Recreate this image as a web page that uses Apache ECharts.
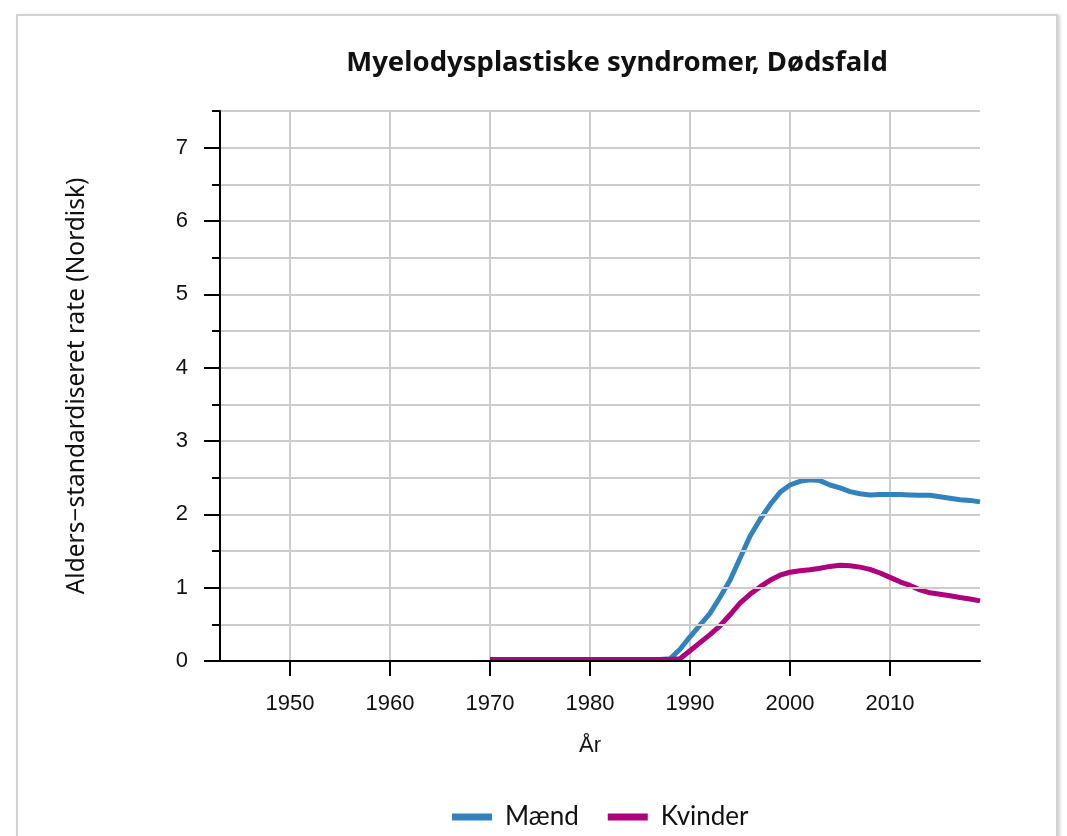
<!DOCTYPE html>
<html>
<head>
<meta charset="utf-8">
<script src="https://cdn.jsdelivr.net/npm/echarts@6/dist/echarts.min.js"></script>
<style>
  html, body { margin: 0; padding: 0; background: #ffffff; }
  #card { position: absolute; left: 16px; top: 14px; width: 1038px; height: 900px;
          border: 2px solid #d2d2d2; box-shadow: 2px 1px 3px rgba(0,0,0,0.18); background: #fff; }
  #chart { position: absolute; left: 0; top: 0; width: 1067px; height: 836px; }
</style>
</head>
<body>
<div id="card"></div>
<div id="chart"></div>
<script>
const titleText = 'Myelodysplastiske syndromer, Dødsfald';
const yAxisName = 'Alders\u2212standardiseret rate (Nordisk)';
const xAxisName = 'År';
const seriesNames = ['Mænd', 'Kvinder'];
const years = [1970,1971,1972,1973,1974,1975,1976,1977,1978,1979,1980,1981,1982,1983,1984,1985,1986,1987,1988,
  1989,1990,1991,1992,1993,1994,1995,1996,1997,1998,1999,2000,2001,2002,2003,2004,2005,2006,2007,2008,2009,
  2010,2011,2012,2013,2014,2015,2016,2017,2018,2019];
const maend = [0.02,0.02,0.02,0.02,0.02,0.02,0.02,0.02,0.02,0.02,0.02,0.02,0.02,0.02,0.02,0.02,0.02,0.02,0.03,
  0.16,0.33,0.49,0.65,0.87,1.10,1.40,1.70,1.93,2.13,2.30,2.40,2.45,2.47,2.46,2.40,2.36,2.31,2.28,2.265,2.27,
  2.27,2.27,2.265,2.26,2.26,2.24,2.22,2.20,2.19,2.17];
const kvinder = [0.02,0.02,0.02,0.02,0.02,0.02,0.02,0.02,0.02,0.02,0.02,0.02,0.02,0.02,0.02,0.02,0.02,0.02,0.02,
  0.03,0.14,0.25,0.36,0.48,0.63,0.79,0.91,1.01,1.10,1.17,1.21,1.23,1.245,1.265,1.29,1.305,1.30,1.28,1.25,1.20,
  1.14,1.08,1.03,0.97,0.93,0.91,0.89,0.865,0.845,0.82];
const xTicksMin = 1950, xTicksMax = 2010, xTickStep = 10;
const yTicksMax = 7, yTickStep = 1, yMinorStep = 0.5, yMax = 7.5;
const colors = ['#3182bd', '#ae017e'];

const toPairs = (ys) => years.map((y, i) => [y, ys[i]]);

const chart = echarts.init(document.getElementById('chart'), null, { renderer: 'canvas' });
const axisBlack = { lineStyle: { color: '#000', width: 2 } };
const gridColor = '#cccccc';
const sansLabel = 'Liberation Sans';
const textFont = 'Noto Sans';

const option = {
  animation: false,
  backgroundColor: 'transparent',
  color: colors,
  title: {
    text: titleText,
    left: 612, top: 44, textAlign: 'center',
    textStyle: { fontFamily: textFont, fontWeight: 'bold', fontSize: 27.5, color: '#111' }
  },
  legend: {
    left: 447, top: 799,
    icon: 'rect', itemWidth: 40, itemHeight: 7, itemGap: 29, itemTextGap: 12,
    textStyle: { fontFamily: 'Lato', fontSize: 26, color: '#111', padding: [0, 0, 0, 8] },
    data: seriesNames
  },
  grid: [
    { left: 220, right: 87, top: 111, bottom: 175 },
    { left: 290, right: 177, top: 111, bottom: 175 },
    { left: 220, right: 87, top: 111 + 550 * (yMax - yTicksMax) / yMax, bottom: 175 }
  ],
  xAxis: [
    { gridIndex: 0, type: 'value', min: 1943, max: 2019, z: 10,
      axisLine: axisBlack, axisTick: { show: false }, axisLabel: { show: false }, splitLine: { show: false } },
    { gridIndex: 1, type: 'value', min: xTicksMin, max: xTicksMax, interval: xTickStep,
      axisLine: { show: false },
      axisTick: { show: true, length: 15, lineStyle: { color: '#000', width: 2 } },
      axisLabel: { margin: 32, fontFamily: sansLabel, fontSize: 22, color: '#111', formatter: (v) => String(v) },
      splitLine: { show: true, lineStyle: { color: gridColor, width: 2 } },
      name: xAxisName, nameLocation: 'middle', nameGap: 74,
      nameTextStyle: { fontFamily: sansLabel, fontSize: 22, color: '#111' } },
    { gridIndex: 2, type: 'value', min: 0, max: 1, show: false }
  ],
  yAxis: [
    { gridIndex: 0, type: 'value', min: 0, max: yMax, interval: yMinorStep, z: 10,
      axisLine: { show: true, lineStyle: { color: '#000', width: 2 } },
      axisTick: { show: true, length: 8, lineStyle: { color: '#000', width: 2 } },
      axisLabel: { show: false },
      splitLine: { show: true, lineStyle: { color: gridColor, width: 2 } },
      name: yAxisName, nameLocation: 'middle', nameGap: 130,
      nameTextStyle: { fontFamily: textFont, fontSize: 24.5, color: '#111' } },
    { gridIndex: 1, type: 'value', min: 0, max: 1, show: false },
    { gridIndex: 2, type: 'value', min: 0, max: yTicksMax, interval: yTickStep, z: 10,
      axisLine: { show: false },
      axisTick: { show: true, length: 16, lineStyle: { color: '#000', width: 2 } },
      axisLabel: { margin: 32, fontFamily: sansLabel, fontSize: 22, color: '#111' },
      splitLine: { show: false } }
  ],
  series: [
    { name: seriesNames[0], type: 'line', xAxisIndex: 0, yAxisIndex: 0, data: toPairs(maend),
      showSymbol: false, symbol: 'none', lineStyle: { width: 5, color: colors[0] }, itemStyle: { color: colors[0] } },
    { name: seriesNames[1], type: 'line', xAxisIndex: 0, yAxisIndex: 0, data: toPairs(kvinder),
      showSymbol: false, symbol: 'none', lineStyle: { width: 5, color: colors[1] }, itemStyle: { color: colors[1] } }
  ]
};
chart.setOption(option);
</script>
</body>
</html>
